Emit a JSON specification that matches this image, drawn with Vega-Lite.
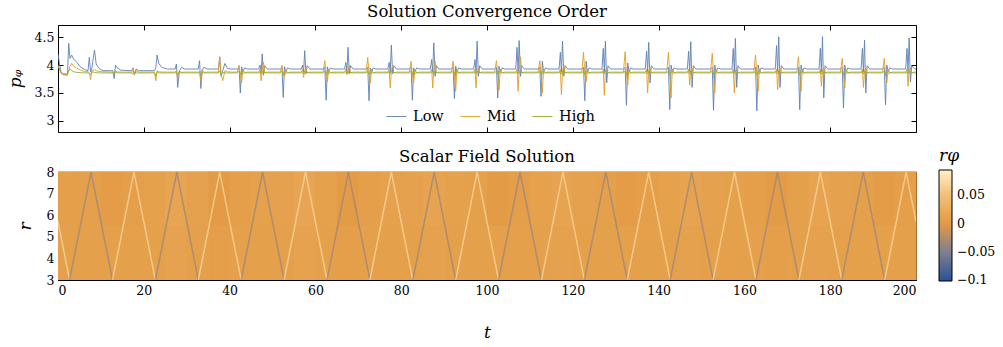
{
"$schema":"https://vega.github.io/schema/vega-lite/v6.json",
"background":"white",
"padding":{"left":5,"top":3,"right":5,"bottom":2},
"config":{
 "font":"DejaVu Serif",
 "view":{"stroke":"black","strokeWidth":1},
 "axis":{"labelFont":"DejaVu Serif","labelFontSize":12.5,"labelColor":"black","tickColor":"black","tickSize":-5,"tickWidth":1,"domain":false,"grid":false,"titleFont":"DejaVu Serif","titleColor":"black","titleFontWeight":"normal","titleFontStyle":"italic","titleFontSize":17,"labelPadding":9},
 "title":{"font":"DejaVu Serif","fontSize":16.5,"fontWeight":"normal","color":"black","offset":4},
 "legend":{"labelFont":"DejaVu Serif","labelColor":"black","titleFont":"DejaVu Serif","titleColor":"black","titleFontWeight":"normal"}
},
"datasets":{
"lines":[
{"t":0,"Low":4.2,"Mid":4.0,"High":3.97},
{"t":0.3,"Low":4.05,"Mid":3.95,"High":3.93},
{"t":0.7,"Low":3.88,"Mid":3.86,"High":3.86},
{"t":1.2,"Low":3.83,"Mid":3.83,"High":3.845},
{"t":2.2,"Low":3.82,"Mid":3.83,"High":3.845},
{"t":2.5,"Low":4.39,"Mid":3.9,"High":3.9},
{"t":2.8,"Low":4.12,"Mid":3.98,"High":3.93},
{"t":3.2,"Low":4.18,"Mid":4.03,"High":3.9},
{"t":3.7,"Low":4.1,"Mid":3.98,"High":3.88},
{"t":4.3,"Low":4.06,"Mid":3.95,"High":3.87},
{"t":5.2,"Low":3.97,"Mid":3.91,"High":3.865},
{"t":6.2,"Low":3.92,"Mid":3.885,"High":3.86},
{"t":7.0,"Low":3.9,"Mid":3.88,"High":3.86},
{"t":7.3,"Low":4.14,"Mid":3.86,"High":3.85},
{"t":7.6,"Low":3.88,"Mid":3.74,"High":3.83},
{"t":7.9,"Low":3.95,"Mid":3.9,"High":3.88},
{"t":8.5,"Low":4.27,"Mid":3.92,"High":3.87},
{"t":8.9,"Low":4.02,"Mid":3.9,"High":3.865},
{"t":9.6,"Low":3.94,"Mid":3.885,"High":3.86},
{"t":10.5,"Low":3.9,"Mid":3.88,"High":3.86},
{"t":12.8,"Low":3.9,"Mid":3.875,"High":3.86},
{"t":13.1,"Low":3.76,"Mid":3.84,"High":3.84},
{"t":13.4,"Low":4.0,"Mid":3.9,"High":3.88},
{"t":13.8,"Low":3.95,"Mid":3.88,"High":3.86},
{"t":14.6,"Low":3.91,"Mid":3.875,"High":3.86},
{"t":17.2,"Low":3.9,"Mid":3.875,"High":3.86},
{"t":17.5,"Low":3.95,"Mid":3.95,"High":3.85},
{"t":17.8,"Low":3.82,"Mid":3.83,"High":3.88},
{"t":18.2,"Low":3.93,"Mid":3.9,"High":3.86},
{"t":18.8,"Low":3.9,"Mid":3.875,"High":3.86},
{"t":22.5,"Low":3.9,"Mid":3.875,"High":3.86},
{"t":22.8,"Low":3.95,"Mid":3.72,"High":3.8},
{"t":23.1,"Low":4.18,"Mid":3.9,"High":3.88},
{"t":23.5,"Low":4.03,"Mid":3.88,"High":3.86},
{"t":24.2,"Low":3.96,"Mid":3.875,"High":3.86},
{"t":25.5,"Low":3.93,"Mid":3.875,"High":3.86},
{"t":27.3,"Low":3.93,"Mid":3.875,"High":3.86},
{"t":27.6,"Low":4.02,"Mid":3.9,"High":3.87},
{"t":27.9,"Low":3.6,"Mid":3.78,"High":3.83},
{"t":28.3,"Low":3.9,"Mid":3.9,"High":3.88},
{"t":28.8,"Low":3.96,"Mid":3.87,"High":3.86},
{"t":29.5,"Low":3.93,"Mid":3.875,"High":3.86},
{"t":32.7,"Low":3.93,"Mid":3.875,"High":3.86},
{"t":33.0,"Low":4.08,"Mid":3.89,"High":3.87},
{"t":33.3,"Low":3.58,"Mid":3.71,"High":3.82},
{"t":33.6,"Low":3.9,"Mid":3.92,"High":3.88},
{"t":34.0,"Low":3.96,"Mid":3.87,"High":3.86},
{"t":34.8,"Low":3.93,"Mid":3.875,"High":3.86},
{"t":37.4,"Low":3.93,"Mid":3.875,"High":3.86},
{"t":37.7,"Low":4.15,"Mid":4.14,"High":3.9},
{"t":38.0,"Low":3.8,"Mid":3.85,"High":3.83},
{"t":38.4,"Low":3.9,"Mid":3.72,"High":3.87},
{"t":38.9,"Low":4.03,"Mid":3.9,"High":3.86},
{"t":39.5,"Low":3.94,"Mid":3.88,"High":3.86},
{"t":40.3,"Low":3.93,"Mid":3.875,"High":3.86},
{"t":41.8,"Low":3.93,"Mid":3.875,"High":3.86},
{"t":42.2,"Low":3.96,"Mid":4.0,"High":3.89},
{"t":42.5,"Low":3.5,"Mid":3.84,"High":3.83},
{"t":42.8,"Low":3.97,"Mid":3.68,"High":3.89},
{"t":43.1,"Low":3.88,"Mid":3.93,"High":3.85},
{"t":43.5,"Low":3.95,"Mid":3.86,"High":3.865},
{"t":44.1,"Low":3.93,"Mid":3.875,"High":3.86},
{"t":46.8,"Low":3.93,"Mid":3.875,"High":3.86},
{"t":47.1,"Low":4.0,"Mid":3.93,"High":3.88},
{"t":47.35,"Low":3.88,"Mid":3.72,"High":3.84},
{"t":47.6,"Low":4.2,"Mid":3.9,"High":3.89},
{"t":47.9,"Low":3.82,"Mid":4.05,"High":3.845},
{"t":48.2,"Low":3.99,"Mid":3.86,"High":3.87},
{"t":48.8,"Low":3.93,"Mid":3.875,"High":3.86},
{"t":51.8,"Low":3.93,"Mid":3.875,"High":3.86},
{"t":52.2,"Low":3.96,"Mid":4.0,"High":3.89},
{"t":52.5,"Low":3.42,"Mid":3.84,"High":3.83},
{"t":52.8,"Low":3.97,"Mid":3.79,"High":3.89},
{"t":53.1,"Low":3.88,"Mid":3.93,"High":3.85},
{"t":53.5,"Low":3.95,"Mid":3.86,"High":3.865},
{"t":54.1,"Low":3.93,"Mid":3.875,"High":3.86},
{"t":56.7,"Low":3.93,"Mid":3.875,"High":3.86},
{"t":57.0,"Low":4.0,"Mid":3.93,"High":3.88},
{"t":57.25,"Low":3.88,"Mid":3.78,"High":3.84},
{"t":57.5,"Low":4.26,"Mid":3.9,"High":3.89},
{"t":57.8,"Low":3.85,"Mid":3.95,"High":3.845},
{"t":58.1,"Low":3.99,"Mid":3.86,"High":3.87},
{"t":58.7,"Low":3.93,"Mid":3.875,"High":3.86},
{"t":61.8,"Low":3.93,"Mid":3.875,"High":3.86},
{"t":62.2,"Low":3.96,"Mid":4.08,"High":3.89},
{"t":62.5,"Low":3.37,"Mid":3.84,"High":3.83},
{"t":62.8,"Low":3.97,"Mid":3.7,"High":3.89},
{"t":63.1,"Low":3.88,"Mid":3.93,"High":3.85},
{"t":63.5,"Low":3.95,"Mid":3.86,"High":3.865},
{"t":64.1,"Low":3.93,"Mid":3.875,"High":3.86},
{"t":66.8,"Low":3.93,"Mid":3.875,"High":3.86},
{"t":67.1,"Low":4.05,"Mid":3.93,"High":3.88},
{"t":67.35,"Low":3.88,"Mid":3.83,"High":3.84},
{"t":67.6,"Low":4.32,"Mid":3.9,"High":3.89},
{"t":67.9,"Low":3.85,"Mid":3.99,"High":3.845},
{"t":68.2,"Low":3.99,"Mid":3.86,"High":3.87},
{"t":68.8,"Low":3.93,"Mid":3.875,"High":3.86},
{"t":71.8,"Low":3.93,"Mid":3.875,"High":3.86},
{"t":72.2,"Low":3.96,"Mid":4.14,"High":3.89},
{"t":72.5,"Low":3.36,"Mid":3.84,"High":3.83},
{"t":72.8,"Low":3.95,"Mid":3.68,"High":3.89},
{"t":73.1,"Low":3.88,"Mid":3.93,"High":3.85},
{"t":73.5,"Low":3.95,"Mid":3.86,"High":3.865},
{"t":74.1,"Low":3.93,"Mid":3.875,"High":3.86},
{"t":76.9,"Low":3.93,"Mid":3.875,"High":3.86},
{"t":77.2,"Low":4.05,"Mid":3.93,"High":3.88},
{"t":77.45,"Low":3.88,"Mid":3.59,"High":3.84},
{"t":77.7,"Low":4.36,"Mid":3.9,"High":3.89},
{"t":78.0,"Low":3.85,"Mid":4.0,"High":3.845},
{"t":78.3,"Low":3.99,"Mid":3.86,"High":3.87},
{"t":78.9,"Low":3.93,"Mid":3.875,"High":3.86},
{"t":81.9,"Low":3.93,"Mid":3.875,"High":3.86},
{"t":82.3,"Low":3.96,"Mid":4.07,"High":3.89},
{"t":82.6,"Low":3.37,"Mid":3.84,"High":3.83},
{"t":82.9,"Low":3.95,"Mid":3.68,"High":3.89},
{"t":83.2,"Low":3.88,"Mid":3.93,"High":3.85},
{"t":83.6,"Low":3.95,"Mid":3.86,"High":3.865},
{"t":84.2,"Low":3.93,"Mid":3.875,"High":3.86},
{"t":86.8,"Low":3.93,"Mid":3.875,"High":3.86},
{"t":87.1,"Low":4.1,"Mid":3.93,"High":3.88},
{"t":87.35,"Low":3.88,"Mid":3.59,"High":3.84},
{"t":87.6,"Low":4.4,"Mid":3.9,"High":3.89},
{"t":87.9,"Low":3.8,"Mid":4.07,"High":3.845},
{"t":88.2,"Low":3.99,"Mid":3.86,"High":3.87},
{"t":88.8,"Low":3.93,"Mid":3.875,"High":3.86},
{"t":91.7,"Low":3.93,"Mid":3.875,"High":3.86},
{"t":92.1,"Low":3.96,"Mid":4.07,"High":3.89},
{"t":92.4,"Low":3.4,"Mid":3.84,"High":3.83},
{"t":92.7,"Low":3.98,"Mid":3.53,"High":3.89},
{"t":93.0,"Low":3.88,"Mid":3.93,"High":3.85},
{"t":93.4,"Low":3.95,"Mid":3.86,"High":3.865},
{"t":94.0,"Low":3.93,"Mid":3.875,"High":3.86},
{"t":96.9,"Low":3.93,"Mid":3.875,"High":3.86},
{"t":97.2,"Low":4.1,"Mid":3.93,"High":3.88},
{"t":97.45,"Low":3.88,"Mid":3.59,"High":3.84},
{"t":97.7,"Low":4.43,"Mid":3.9,"High":3.89},
{"t":98.0,"Low":3.8,"Mid":3.95,"High":3.845},
{"t":98.3,"Low":3.99,"Mid":3.86,"High":3.87},
{"t":98.9,"Low":3.93,"Mid":3.875,"High":3.86},
{"t":101.8,"Low":3.93,"Mid":3.875,"High":3.86},
{"t":102.2,"Low":3.96,"Mid":4.08,"High":3.89},
{"t":102.5,"Low":3.41,"Mid":3.84,"High":3.83},
{"t":102.8,"Low":3.98,"Mid":3.55,"High":3.89},
{"t":103.1,"Low":3.88,"Mid":3.93,"High":3.85},
{"t":103.5,"Low":3.95,"Mid":3.86,"High":3.865},
{"t":104.1,"Low":3.93,"Mid":3.875,"High":3.86},
{"t":106.7,"Low":3.93,"Mid":3.875,"High":3.86},
{"t":107.0,"Low":4.32,"Mid":3.93,"High":3.88},
{"t":107.25,"Low":3.88,"Mid":3.53,"High":3.84},
{"t":107.5,"Low":4.44,"Mid":3.9,"High":3.89},
{"t":107.8,"Low":3.8,"Mid":4.15,"High":3.845},
{"t":108.1,"Low":3.99,"Mid":3.86,"High":3.87},
{"t":108.7,"Low":3.93,"Mid":3.875,"High":3.86},
{"t":111.9,"Low":3.93,"Mid":3.875,"High":3.86},
{"t":112.3,"Low":3.96,"Mid":4.08,"High":3.89},
{"t":112.6,"Low":3.44,"Mid":3.84,"High":3.83},
{"t":112.9,"Low":4.07,"Mid":3.5,"High":3.89},
{"t":113.2,"Low":3.88,"Mid":3.93,"High":3.85},
{"t":113.6,"Low":3.95,"Mid":3.86,"High":3.865},
{"t":114.2,"Low":3.93,"Mid":3.875,"High":3.86},
{"t":116.8,"Low":3.93,"Mid":3.875,"High":3.86},
{"t":117.1,"Low":4.23,"Mid":3.93,"High":3.88},
{"t":117.35,"Low":3.88,"Mid":3.47,"High":3.84},
{"t":117.6,"Low":4.43,"Mid":3.9,"High":3.89},
{"t":117.9,"Low":3.8,"Mid":4.0,"High":3.845},
{"t":118.2,"Low":3.99,"Mid":3.86,"High":3.87},
{"t":118.8,"Low":3.93,"Mid":3.875,"High":3.86},
{"t":122.1,"Low":3.93,"Mid":3.875,"High":3.86},
{"t":122.5,"Low":3.96,"Mid":4.23,"High":3.89},
{"t":122.8,"Low":3.36,"Mid":3.84,"High":3.83},
{"t":123.1,"Low":4.07,"Mid":3.7,"High":3.89},
{"t":123.4,"Low":3.88,"Mid":3.93,"High":3.85},
{"t":123.8,"Low":3.95,"Mid":3.86,"High":3.865},
{"t":124.4,"Low":3.93,"Mid":3.875,"High":3.86},
{"t":126.8,"Low":3.93,"Mid":3.875,"High":3.86},
{"t":127.1,"Low":4.3,"Mid":3.93,"High":3.88},
{"t":127.35,"Low":3.88,"Mid":3.46,"High":3.84},
{"t":127.6,"Low":4.43,"Mid":3.9,"High":3.89},
{"t":127.9,"Low":3.68,"Mid":3.95,"High":3.845},
{"t":128.2,"Low":3.99,"Mid":3.86,"High":3.87},
{"t":128.8,"Low":3.93,"Mid":3.875,"High":3.86},
{"t":131.8,"Low":3.93,"Mid":3.875,"High":3.86},
{"t":132.2,"Low":3.96,"Mid":4.24,"High":3.89},
{"t":132.5,"Low":3.28,"Mid":3.84,"High":3.83},
{"t":132.8,"Low":4.04,"Mid":3.64,"High":3.89},
{"t":133.1,"Low":3.88,"Mid":3.93,"High":3.85},
{"t":133.5,"Low":3.95,"Mid":3.86,"High":3.865},
{"t":134.1,"Low":3.93,"Mid":3.875,"High":3.86},
{"t":136.9,"Low":3.93,"Mid":3.875,"High":3.86},
{"t":137.2,"Low":4.25,"Mid":3.93,"High":3.88},
{"t":137.45,"Low":3.88,"Mid":3.5,"High":3.84},
{"t":137.7,"Low":4.41,"Mid":3.9,"High":3.89},
{"t":138.0,"Low":3.68,"Mid":3.95,"High":3.845},
{"t":138.3,"Low":3.99,"Mid":3.86,"High":3.87},
{"t":138.9,"Low":3.93,"Mid":3.875,"High":3.86},
{"t":141.9,"Low":3.93,"Mid":3.875,"High":3.86},
{"t":142.3,"Low":3.96,"Mid":4.23,"High":3.89},
{"t":142.6,"Low":3.2,"Mid":3.84,"High":3.83},
{"t":142.9,"Low":4.0,"Mid":3.41,"High":3.89},
{"t":143.2,"Low":3.88,"Mid":3.93,"High":3.85},
{"t":143.6,"Low":3.95,"Mid":3.86,"High":3.865},
{"t":144.2,"Low":3.93,"Mid":3.875,"High":3.86},
{"t":146.7,"Low":3.93,"Mid":3.875,"High":3.86},
{"t":147.0,"Low":4.25,"Mid":3.93,"High":3.88},
{"t":147.25,"Low":3.88,"Mid":3.64,"High":3.84},
{"t":147.5,"Low":4.42,"Mid":3.9,"High":3.89},
{"t":147.8,"Low":3.6,"Mid":3.95,"High":3.845},
{"t":148.1,"Low":3.99,"Mid":3.86,"High":3.87},
{"t":148.7,"Low":3.93,"Mid":3.875,"High":3.86},
{"t":152.1,"Low":3.93,"Mid":3.875,"High":3.86},
{"t":152.5,"Low":3.96,"Mid":4.21,"High":3.89},
{"t":152.8,"Low":3.19,"Mid":3.84,"High":3.83},
{"t":153.1,"Low":4.0,"Mid":3.5,"High":3.89},
{"t":153.4,"Low":3.88,"Mid":3.93,"High":3.85},
{"t":153.8,"Low":3.95,"Mid":3.86,"High":3.865},
{"t":154.4,"Low":3.93,"Mid":3.875,"High":3.86},
{"t":157.1,"Low":3.93,"Mid":3.875,"High":3.86},
{"t":157.4,"Low":4.3,"Mid":3.93,"High":3.88},
{"t":157.65,"Low":3.88,"Mid":3.5,"High":3.84},
{"t":157.9,"Low":4.48,"Mid":3.9,"High":3.89},
{"t":158.2,"Low":3.6,"Mid":3.95,"High":3.845},
{"t":158.5,"Low":3.99,"Mid":3.86,"High":3.87},
{"t":159.1,"Low":3.93,"Mid":3.875,"High":3.86},
{"t":162.2,"Low":3.93,"Mid":3.875,"High":3.86},
{"t":162.6,"Low":3.96,"Mid":4.18,"High":3.89},
{"t":162.9,"Low":3.18,"Mid":3.84,"High":3.83},
{"t":163.2,"Low":4.0,"Mid":3.53,"High":3.89},
{"t":163.5,"Low":3.88,"Mid":3.93,"High":3.85},
{"t":163.9,"Low":3.95,"Mid":3.86,"High":3.865},
{"t":164.5,"Low":3.93,"Mid":3.875,"High":3.86},
{"t":167.2,"Low":3.93,"Mid":3.875,"High":3.86},
{"t":167.5,"Low":4.35,"Mid":3.93,"High":3.88},
{"t":167.75,"Low":3.88,"Mid":3.56,"High":3.84},
{"t":168.0,"Low":4.51,"Mid":3.9,"High":3.89},
{"t":168.3,"Low":3.6,"Mid":3.95,"High":3.845},
{"t":168.6,"Low":3.99,"Mid":3.86,"High":3.87},
{"t":169.2,"Low":3.93,"Mid":3.875,"High":3.86},
{"t":172.2,"Low":3.93,"Mid":3.875,"High":3.86},
{"t":172.6,"Low":3.96,"Mid":4.15,"High":3.89},
{"t":172.9,"Low":3.2,"Mid":3.84,"High":3.83},
{"t":173.2,"Low":4.0,"Mid":3.53,"High":3.89},
{"t":173.5,"Low":3.88,"Mid":3.93,"High":3.85},
{"t":173.9,"Low":3.95,"Mid":3.86,"High":3.865},
{"t":174.5,"Low":3.93,"Mid":3.875,"High":3.86},
{"t":177.4,"Low":3.93,"Mid":3.875,"High":3.86},
{"t":177.7,"Low":4.3,"Mid":3.93,"High":3.88},
{"t":177.95,"Low":3.88,"Mid":3.62,"High":3.84},
{"t":178.2,"Low":4.51,"Mid":3.9,"High":3.89},
{"t":178.5,"Low":3.41,"Mid":3.95,"High":3.845},
{"t":178.8,"Low":3.99,"Mid":3.86,"High":3.87},
{"t":179.4,"Low":3.93,"Mid":3.875,"High":3.86},
{"t":182.4,"Low":3.93,"Mid":3.875,"High":3.86},
{"t":182.8,"Low":3.96,"Mid":4.12,"High":3.89},
{"t":183.1,"Low":3.23,"Mid":3.84,"High":3.83},
{"t":183.4,"Low":4.0,"Mid":3.59,"High":3.89},
{"t":183.7,"Low":3.88,"Mid":3.93,"High":3.85},
{"t":184.1,"Low":3.95,"Mid":3.86,"High":3.865},
{"t":184.7,"Low":3.93,"Mid":3.875,"High":3.86},
{"t":187.2,"Low":3.93,"Mid":3.875,"High":3.86},
{"t":187.5,"Low":4.3,"Mid":3.93,"High":3.88},
{"t":187.75,"Low":3.88,"Mid":3.6,"High":3.84},
{"t":188.0,"Low":4.45,"Mid":3.9,"High":3.89},
{"t":188.3,"Low":3.5,"Mid":3.95,"High":3.845},
{"t":188.6,"Low":3.99,"Mid":3.86,"High":3.87},
{"t":189.2,"Low":3.93,"Mid":3.875,"High":3.86},
{"t":192.2,"Low":3.93,"Mid":3.875,"High":3.86},
{"t":192.6,"Low":3.96,"Mid":4.12,"High":3.89},
{"t":192.9,"Low":3.29,"Mid":3.84,"High":3.83},
{"t":193.2,"Low":4.0,"Mid":3.68,"High":3.89},
{"t":193.5,"Low":3.88,"Mid":3.93,"High":3.85},
{"t":193.9,"Low":3.95,"Mid":3.86,"High":3.865},
{"t":194.5,"Low":3.93,"Mid":3.875,"High":3.86},
{"t":197.6,"Low":3.93,"Mid":3.875,"High":3.86},
{"t":197.9,"Low":4.3,"Mid":3.93,"High":3.88},
{"t":198.15,"Low":3.88,"Mid":3.62,"High":3.84},
{"t":198.4,"Low":4.49,"Mid":3.9,"High":3.89},
{"t":198.7,"Low":3.7,"Mid":3.95,"High":3.845},
{"t":199.0,"Low":3.99,"Mid":3.86,"High":3.87},
{"t":199.6,"Low":3.94,"Mid":3.875,"High":3.86},
{"t":200,"Low":3.93,"Mid":3.875,"High":3.86}
],
"bg":[
{"t0":0,"t1":5,"r0":3,"r1":5.5,"v":0.008},{"t0":5,"t1":10,"r0":3,"r1":5.5,"v":0.008},{"t0":10,"t1":15,"r0":3,"r1":5.5,"v":0.008},{"t0":15,"t1":20,"r0":3,"r1":5.5,"v":0.008},
{"t0":20,"t1":25,"r0":3,"r1":5.5,"v":0.008},{"t0":25,"t1":30,"r0":3,"r1":5.5,"v":0.011},{"t0":30,"t1":35,"r0":3,"r1":5.5,"v":0.008},{"t0":35,"t1":40,"r0":3,"r1":5.5,"v":0.007},
{"t0":40,"t1":45,"r0":3,"r1":5.5,"v":0.008},{"t0":45,"t1":50,"r0":3,"r1":5.5,"v":0.008},{"t0":50,"t1":55,"r0":3,"r1":5.5,"v":0.008},{"t0":55,"t1":60,"r0":3,"r1":5.5,"v":0.011},
{"t0":60,"t1":65,"r0":3,"r1":5.5,"v":0.008},{"t0":65,"t1":70,"r0":3,"r1":5.5,"v":0.006},{"t0":70,"t1":75,"r0":3,"r1":5.5,"v":0.008},{"t0":75,"t1":80,"r0":3,"r1":5.5,"v":0.008},
{"t0":80,"t1":85,"r0":3,"r1":5.5,"v":0.008},{"t0":85,"t1":90,"r0":3,"r1":5.5,"v":0.01},{"t0":90,"t1":95,"r0":3,"r1":5.5,"v":0.008},{"t0":95,"t1":100,"r0":3,"r1":5.5,"v":0.008},
{"t0":100,"t1":105,"r0":3,"r1":5.5,"v":0.008},{"t0":105,"t1":110,"r0":3,"r1":5.5,"v":0.008},{"t0":110,"t1":115,"r0":3,"r1":5.5,"v":0.008},{"t0":115,"t1":120,"r0":3,"r1":5.5,"v":0.01},
{"t0":120,"t1":125,"r0":3,"r1":5.5,"v":0.008},{"t0":125,"t1":130,"r0":3,"r1":5.5,"v":0.008},{"t0":130,"t1":135,"r0":3,"r1":5.5,"v":0.008},{"t0":135,"t1":140,"r0":3,"r1":5.5,"v":0.008},
{"t0":140,"t1":145,"r0":3,"r1":5.5,"v":0.008},{"t0":145,"t1":150,"r0":3,"r1":5.5,"v":0.01},{"t0":150,"t1":155,"r0":3,"r1":5.5,"v":0.008},{"t0":155,"t1":160,"r0":3,"r1":5.5,"v":0.008},
{"t0":160,"t1":165,"r0":3,"r1":5.5,"v":0.008},{"t0":165,"t1":170,"r0":3,"r1":5.5,"v":0.006},{"t0":170,"t1":175,"r0":3,"r1":5.5,"v":0.008},{"t0":175,"t1":180,"r0":3,"r1":5.5,"v":0.01},
{"t0":180,"t1":185,"r0":3,"r1":5.5,"v":0.008},{"t0":185,"t1":190,"r0":3,"r1":5.5,"v":0.008},{"t0":190,"t1":195,"r0":3,"r1":5.5,"v":0.008},{"t0":195,"t1":200,"r0":3,"r1":5.5,"v":0.008},
{"t0":0,"t1":5,"r0":5.5,"r1":8,"v":0.007},{"t0":5,"t1":10,"r0":5.5,"r1":8,"v":0.008},{"t0":10,"t1":15,"r0":5.5,"r1":8,"v":0.003},{"t0":15,"t1":20,"r0":5.5,"r1":8,"v":0.007},
{"t0":20,"t1":25,"r0":5.5,"r1":8,"v":0.009},{"t0":25,"t1":30,"r0":5.5,"r1":8,"v":0.013},{"t0":30,"t1":35,"r0":5.5,"r1":8,"v":0.01},{"t0":35,"t1":40,"r0":5.5,"r1":8,"v":0.001},
{"t0":40,"t1":45,"r0":5.5,"r1":8,"v":0.007},{"t0":45,"t1":50,"r0":5.5,"r1":8,"v":0.009},{"t0":50,"t1":55,"r0":5.5,"r1":8,"v":0.01},{"t0":55,"t1":60,"r0":5.5,"r1":8,"v":0.013},
{"t0":60,"t1":65,"r0":5.5,"r1":8,"v":0.009},{"t0":65,"t1":70,"r0":5.5,"r1":8,"v":0.002},{"t0":70,"t1":75,"r0":5.5,"r1":8,"v":0.005},{"t0":75,"t1":80,"r0":5.5,"r1":8,"v":0.009},
{"t0":80,"t1":85,"r0":5.5,"r1":8,"v":0.01},{"t0":85,"t1":90,"r0":5.5,"r1":8,"v":0.012},{"t0":90,"t1":95,"r0":5.5,"r1":8,"v":0.009},{"t0":95,"t1":100,"r0":5.5,"r1":8,"v":0.008},
{"t0":100,"t1":105,"r0":5.5,"r1":8,"v":0.002},{"t0":105,"t1":110,"r0":5.5,"r1":8,"v":0.007},{"t0":110,"t1":115,"r0":5.5,"r1":8,"v":0.009},{"t0":115,"t1":120,"r0":5.5,"r1":8,"v":0.012},
{"t0":120,"t1":125,"r0":5.5,"r1":8,"v":0.01},{"t0":125,"t1":130,"r0":5.5,"r1":8,"v":0.008},{"t0":130,"t1":135,"r0":5.5,"r1":8,"v":0.003},{"t0":135,"t1":140,"r0":5.5,"r1":8,"v":0.007},
{"t0":140,"t1":145,"r0":5.5,"r1":8,"v":0.009},{"t0":145,"t1":150,"r0":5.5,"r1":8,"v":0.012},{"t0":150,"t1":155,"r0":5.5,"r1":8,"v":0.01},{"t0":155,"t1":160,"r0":5.5,"r1":8,"v":0.008},
{"t0":160,"t1":165,"r0":5.5,"r1":8,"v":0.006},{"t0":165,"t1":170,"r0":5.5,"r1":8,"v":0.002},{"t0":170,"t1":175,"r0":5.5,"r1":8,"v":0.008},{"t0":175,"t1":180,"r0":5.5,"r1":8,"v":0.012},
{"t0":180,"t1":185,"r0":5.5,"r1":8,"v":0.01},{"t0":185,"t1":190,"r0":5.5,"r1":8,"v":0.008},{"t0":190,"t1":195,"r0":5.5,"r1":8,"v":0.003},{"t0":195,"t1":200,"r0":5.5,"r1":8,"v":0.007}
],
"zig":[
{"g":0,"t":0,"r":5.7,"v":0.075},{"g":0,"t":2.7,"r":3,"v":0.075},
{"g":1,"t":2.7,"r":3,"v":-0.04},{"g":1,"t":7.7,"r":8,"v":-0.04},{"g":1,"t":12.7,"r":3,"v":-0.04},
{"g":2,"t":12.7,"r":3,"v":0.075},{"g":2,"t":17.7,"r":8,"v":0.075},{"g":2,"t":22.7,"r":3,"v":0.075},
{"g":3,"t":22.7,"r":3,"v":-0.04},{"g":3,"t":27.7,"r":8,"v":-0.04},{"g":3,"t":32.7,"r":3,"v":-0.04},
{"g":4,"t":32.7,"r":3,"v":0.075},{"g":4,"t":37.7,"r":8,"v":0.075},{"g":4,"t":42.7,"r":3,"v":0.075},
{"g":5,"t":42.7,"r":3,"v":-0.04},{"g":5,"t":47.7,"r":8,"v":-0.04},{"g":5,"t":52.7,"r":3,"v":-0.04},
{"g":6,"t":52.7,"r":3,"v":0.075},{"g":6,"t":57.7,"r":8,"v":0.075},{"g":6,"t":62.7,"r":3,"v":0.075},
{"g":7,"t":62.7,"r":3,"v":-0.04},{"g":7,"t":67.7,"r":8,"v":-0.04},{"g":7,"t":72.7,"r":3,"v":-0.04},
{"g":8,"t":72.7,"r":3,"v":0.075},{"g":8,"t":77.7,"r":8,"v":0.075},{"g":8,"t":82.7,"r":3,"v":0.075},
{"g":9,"t":82.7,"r":3,"v":-0.04},{"g":9,"t":87.7,"r":8,"v":-0.04},{"g":9,"t":92.7,"r":3,"v":-0.04},
{"g":10,"t":92.7,"r":3,"v":0.075},{"g":10,"t":97.7,"r":8,"v":0.075},{"g":10,"t":102.7,"r":3,"v":0.075},
{"g":11,"t":102.7,"r":3,"v":-0.04},{"g":11,"t":107.7,"r":8,"v":-0.04},{"g":11,"t":112.7,"r":3,"v":-0.04},
{"g":12,"t":112.7,"r":3,"v":0.075},{"g":12,"t":117.7,"r":8,"v":0.075},{"g":12,"t":122.7,"r":3,"v":0.075},
{"g":13,"t":122.7,"r":3,"v":-0.04},{"g":13,"t":127.7,"r":8,"v":-0.04},{"g":13,"t":132.7,"r":3,"v":-0.04},
{"g":14,"t":132.7,"r":3,"v":0.075},{"g":14,"t":137.7,"r":8,"v":0.075},{"g":14,"t":142.7,"r":3,"v":0.075},
{"g":15,"t":142.7,"r":3,"v":-0.04},{"g":15,"t":147.7,"r":8,"v":-0.04},{"g":15,"t":152.7,"r":3,"v":-0.04},
{"g":16,"t":152.7,"r":3,"v":0.075},{"g":16,"t":157.7,"r":8,"v":0.075},{"g":16,"t":162.7,"r":3,"v":0.075},
{"g":17,"t":162.7,"r":3,"v":-0.04},{"g":17,"t":167.7,"r":8,"v":-0.04},{"g":17,"t":172.7,"r":3,"v":-0.04},
{"g":18,"t":172.7,"r":3,"v":0.075},{"g":18,"t":177.7,"r":8,"v":0.075},{"g":18,"t":182.7,"r":3,"v":0.075},
{"g":19,"t":182.7,"r":3,"v":-0.04},{"g":19,"t":187.7,"r":8,"v":-0.04},{"g":19,"t":192.7,"r":3,"v":-0.04},
{"g":20,"t":192.7,"r":3,"v":0.075},{"g":20,"t":197.7,"r":8,"v":0.075},{"g":20,"t":200,"r":5.7,"v":0.075}
]
},
"spacing":14,
"resolve":{"scale":{"color":"independent","x":"independent","y":"independent"},"legend":{"color":"independent"}},
"vconcat":[
{
 "width":858,"height":107,
 "title":{"text":"Solution Convergence Order"},
 "data":{"name":"lines"},
 "transform":[{"fold":["Low","Mid","High"],"as":["s","p"]}],
 "layer":[
  {"mark":{"type":"line","strokeWidth":1,"opacity":0.9,"clip":true},
   "encoding":{
    "x":{"field":"t","type":"quantitative","scale":{"domain":[0,200],"nice":false,"zero":false},"axis":{"orient":"bottom","values":[0,20,40,60,80,100,120,140,160,180,200],"labels":false,"title":null}},
    "y":{"field":"p","type":"quantitative","scale":{"domain":[2.8,4.72],"nice":false,"zero":false},"axis":{"orient":"left","values":[3,3.5,4,4.5],"format":"~g","title":"pᵩ","titlePadding":10}},
    "color":{"field":"s","type":"nominal","scale":{"domain":["Low","Mid","High"],"range":["#5E81B5","#E19C24","#8FB032"]},
      "legend":{"orient":"none","legendX":328,"legendY":81,"direction":"horizontal","title":null,"symbolType":"stroke","symbolSize":400,"symbolStrokeWidth":1,"labelFontSize":14.5,"labelOffset":6,"columnPadding":14,"padding":0}}
   }},
  {"mark":{"type":"point","opacity":0},
   "encoding":{
    "x":{"field":"t","type":"quantitative","axis":{"orient":"top","values":[0,20,40,60,80,100,120,140,160,180,200],"labels":false,"title":null}},
    "y":{"field":"p","type":"quantitative","axis":{"orient":"right","values":[3,3.5,4,4.5],"labels":false,"title":null}}
   }}
 ],
 "resolve":{"axis":{"x":"independent","y":"independent"}}
},
{
 "width":858,"height":108,
 "title":{"text":"Scalar Field Solution","offset":-17},
 "layer":[
  {"data":{"name":"bg"},
   "mark":{"type":"rect","x2Offset":0.7,"y2Offset":-0.7},
   "encoding":{
    "x":{"field":"t0","type":"quantitative","scale":{"domain":[0,200],"nice":false,"zero":false},"axis":{"orient":"bottom","values":[0,20,40,60,80,100,120,140,160,180,200],"format":"d","title":"t","titlePadding":28}},
    "x2":{"field":"t1"},
    "y":{"field":"r0","type":"quantitative","scale":{"domain":[3,8],"nice":false,"zero":false},"axis":{"orient":"left","values":[3,4,5,6,7,8],"format":"d","title":"r","titlePadding":12}},
    "y2":{"field":"r1"},
    "color":{"field":"v","type":"quantitative","scale":{"domain":[-0.102,-0.05,0,0.05,0.095],"range":["#2a5197","#80808f","#e39a44","#f2bf78","#fff0c6"],"interpolate":"rgb"},
      "legend":{"type":"gradient","orient":"none","legendX":881,"legendY":-24,"direction":"vertical","title":"rφ","titleFontStyle":"italic","titleFontSize":17,"gradientLength":111,"gradientThickness":13,"gradientStrokeColor":"black","gradientStrokeWidth":1,"values":[-0.1,-0.05,0,0.05],"format":"~g","labelFontSize":12.5,"labelOffset":5,"padding":0}}
   }},
  {"data":{"name":"zig"},
   "mark":{"type":"line","strokeWidth":1.5,"opacity":0.7,"clip":true},
   "encoding":{
    "x":{"field":"t","type":"quantitative","axis":{"orient":"top","values":[0,20,40,60,80,100,120,140,160,180,200],"labels":false,"title":null}},
    "y":{"field":"r","type":"quantitative","axis":{"orient":"right","values":[3,4,5,6,7,8],"labels":false,"title":null}},
    "stroke":{"field":"v","type":"quantitative","scale":{"domain":[-0.102,-0.05,0,0.05,0.095],"range":["#2a5197","#80808f","#e39a44","#f2bf78","#fff0c6"],"interpolate":"rgb"},"legend":null},
    "detail":{"field":"g","type":"nominal"}
   }}
 ],
 "resolve":{"axis":{"x":"independent","y":"independent"}}
}
]
}
